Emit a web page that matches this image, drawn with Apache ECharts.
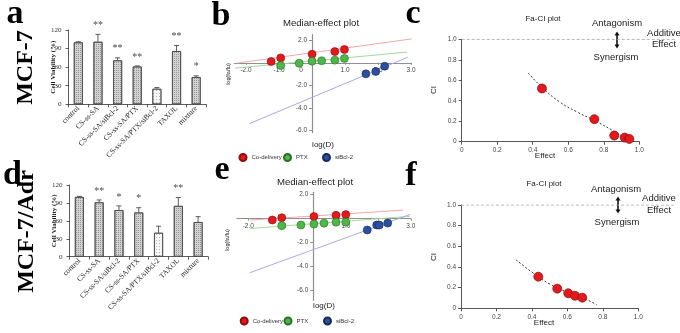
<!DOCTYPE html>
<html><head><meta charset="utf-8">
<script src="https://cdn.jsdelivr.net/npm/echarts@6/dist/echarts.min.js"></script>
<style>html,body{margin:0;padding:0;background:#fff}#c{width:680px;height:333px}</style>
</head><body><div id="c"></div>
<script>
// ---------- data ----------
const categories = ['control','CS-ss-SA','CS-ss-SA/siBcl-2','CS-ss-SA/PTX','CS-ss-SA/PTX/siBcl-2','TAXOL','mixture'];
const viabilityTicks = [0,30,60,90,120];
const viabilityMCF7 = [100,101,71,61,25,86,44];
const errTopMCF7   = [101,113,75,62,27,95,46];
const sigMCF7      = ['','**','**','**','','**','*'];
const viabilityAdr = [100,91,78,74,40,85,58];
const errTopAdr    = [101,95,85,82,51,99,67];
const sigAdr       = ['','**','*','*','','**',''];

const seriesNames = ['Co-delivery','PTX','siBcl-2'];
const logDTicks = [-2,-1,0,1,2,3];
const logFaTicks = [-6,-4,-2,2];
// panel b (MCF-7) median-effect points
const medB_co  = [[-1.24,0.12],[-0.95,0.44],[0,0.77],[0.69,1.0],[0.98,1.19]];
const medB_ptx = [[-0.95,-0.24],[-0.39,-0.03],[0,0.15],[0.29,0.18],[0.69,0.24],[0.98,0.39]];
const medB_si  = [[1.63,-0.98],[1.93,-0.77],[2.2,-0.3]];
const fitB_co  = [[-2.28,-0.03],[3.02,2.13]];
const fitB_ptx = [[-2.33,-0.47],[2.87,0.95]];
const fitB_si  = [[-1.91,-5.42],[2.9,0.5]];
// panel e (MCF-7/Adr)
const medE_co  = [[-1.26,-0.11],[-0.97,0.08],[0.02,0.18],[0.70,0.28],[1.0,0.34]];
const medE_ptx = [[-0.97,-0.58],[-0.38,-0.53],[0.02,-0.45],[0.33,-0.37],[0.70,-0.29],[1.0,-0.29]];
const medE_si  = [[1.66,-0.94],[1.95,-0.53],[2.03,-0.53],[2.29,-0.36]];
const fitE_co  = [[-1.95,-0.12],[2.77,0.72]];
const fitE_ptx = [[-1.95,-0.82],[2.98,0.2]];
const fitE_si  = [[-1.95,-4.5],[2.98,0.36]];
// panels c / f : Fa-CI
const faTicks = [0,0.2,0.4,0.6,0.8,1.0];
const additiveLine = [[0,1],[1.2,1]];
const faCI_C = [[0.452,0.52],[0.747,0.22],[0.859,0.06],[0.918,0.04],[0.944,0.027]];
const faCurve_C = [[0.375,0.67],[0.45,0.535],[0.55,0.39],[0.65,0.29],[0.75,0.205],[0.85,0.11],[0.9,0.06],[0.96,0.01]];
const faCI_F = [[0.436,0.306],[0.543,0.19],[0.605,0.145],[0.643,0.122],[0.684,0.103]];
const faCurve_F = [[0.31,0.47],[0.4,0.35],[0.5,0.235],[0.6,0.155],[0.7,0.09],[0.765,0.035]];

// ---------- styles ----------
const SERIF = '"Liberation Serif","Times New Roman",serif';
const SANS = '"Liberation Sans",Arial,sans-serif';
const dotColors = ['#e3191c','#4db848','#2d4f9e'];
const dotBorders = ['#8a0d0f','#2a6e27','#17285a'];
const fitColors = ['#f4a7a7','#a8d99b','#a9a9e6'];

const chart = echarts.init(document.getElementById('c'), null, {renderer:'canvas'});

const baseGrids = [
  {left:68.5, top:30, width:137.5, height:74.3},     // 0 a
  {left:69.5, top:185, width:138.5, height:71.7},    // 1 d
  {left:234.5, top:34.7, width:176.6, height:97.9},  // 2 b
  {left:236.9, top:192.3, width:173.9, height:108},  // 3 e
  {left:461.7, top:39.3, width:177.6, height:102.4}, // 4 c
  {left:461, top:205, width:177.3, height:103.3}     // 5 f
];
const addMax = additiveLine[1][0];
// 6,7: overlay grids for the "additive effect" reference line (extends past x = 1.0)
baseGrids.push(Object.assign({}, baseGrids[4], {width: baseGrids[4].width * addMax}));
baseGrids.push(Object.assign({}, baseGrids[5], {width: baseGrids[5].width * addMax}));
const grids = baseGrids.map(g => Object.assign({outerBoundsMode:'none', containLabel:false}, g));

const medExt = { 2:{x:[-2.35,3.0], y:[-6.2,2.5]}, 3:{x:[-2.35,3.0], y:[-6.8,2.2]} };

function barX(gi){
  return {type:'category', gridIndex:gi, data:categories,
    axisLine:{lineStyle:{color:'#333',width:0.8}},
    axisTick:{show:true,length:3,lineStyle:{color:'#333',width:0.8}},
    axisLabel:{interval:0, rotate:45, margin:3, fontSize:7.5, color:'#222', fontFamily:SERIF}};
}
function barY(gi){
  return {type:'value', gridIndex:gi, min:viabilityTicks[0], max:viabilityTicks[viabilityTicks.length-1], interval:30,
    name:'Cell Viability (%)', nameLocation:'middle', nameGap:12, nameMoveOverlap:false,
    nameTextStyle:{fontSize:7, fontWeight:'bold', fontFamily:SERIF, color:'#222'},
    axisLine:{show:true,lineStyle:{color:'#333',width:0.8}},
    axisTick:{show:true,length:3,lineStyle:{color:'#333',width:0.8}},
    splitLine:{show:false},
    axisLabel:{fontSize:7, color:'#333', fontFamily:SERIF, margin:7}};
}
function medX(gi){
  const e = medExt[gi], g = grids[gi];
  return {type:'value', gridIndex:gi, min:e.x[0], max:e.x[1],
    offset: -g.height * (0 - e.y[0]) / (e.y[1] - e.y[0]),
    axisLine:{onZero:false, lineStyle:{color:'#8f8f8f',width:1.2}},
    axisTick:{show:true, length:2, customValues:logDTicks, lineStyle:{color:'#8f8f8f'}},
    splitLine:{show:false},
    axisLabel:{customValues:logDTicks, fontSize:6.5, color:'#444', fontFamily:SANS, margin:4,
      formatter:v => v===0 ? '{z|0}' : v.toFixed(1),
      rich:{z:{fontSize:6.5,color:'#444',fontFamily:SANS,padding:[0,22,0,0]}}}};
}
function medY(gi){
  const e = medExt[gi], g = grids[gi];
  return {type:'value', gridIndex:gi, min:e.y[0], max:e.y[1],
    offset: -g.width * (0 - e.x[0]) / (e.x[1] - e.x[0]),
    axisLine:{show:true, onZero:false, lineStyle:{color:'#8f8f8f',width:1.2}},
    axisTick:{show:true, length:3, customValues:logFaTicks, lineStyle:{color:'#8f8f8f'}},
    splitLine:{show:false},
    axisLabel:{customValues:logFaTicks, fontSize:6.5, color:'#444', fontFamily:SANS, margin:5,
      formatter:v => v.toFixed(1)}};
}
function faAxis(gi){
  return {type:'value', gridIndex:gi, min:faTicks[0], max:faTicks[faTicks.length-1], interval:0.2,
    axisLine:{show:true, onZero:false, lineStyle:{color:'#555',width:1}},
    axisTick:{show:true,length:3,lineStyle:{color:'#555'}},
    splitLine:{show:false},
    axisLabel:{fontSize:6.5, color:'#444', fontFamily:SANS, margin:5,
      formatter:v => v===0 ? '0' : v.toFixed(1)}};
}
function hiddenAxis(gi, max){
  return {type:'value', gridIndex:gi, min:0, max:max, show:false, splitLine:{show:false}};
}

const xAxis = [barX(0), barX(1), medX(2), medX(3), faAxis(4), faAxis(5), hiddenAxis(6, addMax), hiddenAxis(7, addMax)];
const yAxis = [barY(0), barY(1), medY(2), medY(3), faAxis(4), faAxis(5), hiddenAxis(6, 1), hiddenAxis(7, 1)];

const hatch = {symbol:'rect', symbolSize:1, dashArrayX:[1,1], dashArrayY:[1,1], color:'rgba(80,80,80,0.45)'};
const dots  = {symbol:'rect', symbolSize:1, dashArrayX:[1,2], dashArrayY:[1,2], color:'rgba(120,120,120,0.5)'};
function barSeries(gi, vals){
  return {type:'bar', xAxisIndex:gi, yAxisIndex:gi, barWidth:9, silent:true,
    data: vals.map((v,i)=>({value:v, itemStyle: i===4 ? {color:'#f6f6f6', decal:dots} : {color:'#d2d2d2', decal:hatch}})),
    itemStyle:{borderColor:'#4a4a4a', borderWidth:0.8}};
}
function errSeries(gi, vals, tops, sig){
  return {type:'custom', xAxisIndex:gi, yAxisIndex:gi, silent:true, clip:false,
    data: vals.map((v,i)=>[i, v, tops[i]]),
    renderItem:(params, api)=>{
      const i = api.value(0);
      const p0 = api.coord([i, api.value(1)]);
      const p1 = api.coord([i, api.value(2)]);
      const st = {stroke:'#333', lineWidth:0.8};
      const ch = [
        {type:'line', shape:{x1:p0[0],y1:p0[1],x2:p1[0],y2:p1[1]}, style:st},
        {type:'line', shape:{x1:p1[0]-2.5,y1:p1[1],x2:p1[0]+2.5,y2:p1[1]}, style:st}
      ];
      if (sig[i]) ch.push({type:'text', x:p1[0], y:p1[1]-9,
        style:{text:sig[i], fill:'#4a4a4a', fontSize:10, fontFamily:SERIF, align:'center', verticalAlign:'middle', textAlign:'center', textVerticalAlign:'middle'}});
      return {type:'group', children:ch};
    }};
}
function fitSeries(gi, pts, k){
  return {type:'line', name:seriesNames[k]+' fit', xAxisIndex:gi, yAxisIndex:gi, data:pts, symbol:'none', silent:true,
    lineStyle:{color:fitColors[k], width:1}, z:1};
}
function dotSeries(gi, pts, k){
  return {type:'scatter', name:seriesNames[k], xAxisIndex:gi, yAxisIndex:gi, data:pts, symbol:'circle', symbolSize:8,
    itemStyle:{color:dotColors[k], borderColor:dotBorders[k], borderWidth:0.6, opacity:1}, z:3};
}
function faSeries(gi, gAdd, pts, curve){
  return [
    {type:'line', xAxisIndex:gAdd, yAxisIndex:gAdd, data:additiveLine, symbol:'none', silent:true,
      lineStyle:{color:'#a0a0a0', width:0.9, type:[3,2]}},
    {type:'line', xAxisIndex:gi, yAxisIndex:gi, data:curve, symbol:'none', smooth:true, silent:true,
      lineStyle:{color:'#333', width:1, type:[2,2]}},
    {type:'scatter', xAxisIndex:gi, yAxisIndex:gi, data:pts, symbol:'circle', symbolSize:9,
      itemStyle:{color:'#e5191c', borderColor:'#7a0d0f', borderWidth:0.7, opacity:1}, z:3}
  ];
}

const series = [
  barSeries(0, viabilityMCF7), errSeries(0, viabilityMCF7, errTopMCF7, sigMCF7),
  barSeries(1, viabilityAdr), errSeries(1, viabilityAdr, errTopAdr, sigAdr),
  fitSeries(2, fitB_co, 0), fitSeries(2, fitB_ptx, 1), fitSeries(2, fitB_si, 2),
  dotSeries(2, medB_co, 0), dotSeries(2, medB_ptx, 1), dotSeries(2, medB_si, 2),
  fitSeries(3, fitE_co, 0), fitSeries(3, fitE_ptx, 1), fitSeries(3, fitE_si, 2),
  dotSeries(3, medE_co, 0), dotSeries(3, medE_ptx, 1), dotSeries(3, medE_si, 2),
  ...faSeries(4, 6, faCI_C, faCurve_C),
  ...faSeries(5, 7, faCI_F, faCurve_F)
];

function oneLegend(name, left, top){
  return {data:[name], left:left, top:top, padding:0, icon:'circle', itemWidth:7, itemHeight:7,
    selectedMode:false, textStyle:{fontSize:6, color:'#333', fontFamily:SANS}};
}
const legend = [
  oneLegend('Co-delivery', 238.5, 153), oneLegend('PTX', 283, 153), oneLegend('siBcl-2', 322, 153),
  oneLegend('Co-delivery', 239.7, 316.5), oneLegend('PTX', 283.5, 316.5), oneLegend('siBcl-2', 323, 316.5)
];

function txt(t, x, y, size, opts){
  opts = opts || {};
  return {type:'text', x:x, y:y, rotation:opts.rot||0, silent:true,
    style:{text:t, fill:opts.color||'#222', fontSize:size, fontWeight:opts.bold?'bold':'normal',
      fontFamily:opts.family||SANS, align:'center', verticalAlign:'middle', textAlign:'center', textVerticalAlign:'middle'}};
}
function dblArrow(x, y1, y2){
  return {type:'group', silent:true, children:[
    {type:'line', shape:{x1:x,y1:y1+3,x2:x,y2:y2-3}, style:{stroke:'#111', lineWidth:1.6}},
    {type:'polygon', shape:{points:[[x-2.5,y1+4],[x+2.5,y1+4],[x,y1]]}, style:{fill:'#111'}},
    {type:'polygon', shape:{points:[[x-2.5,y2-4],[x+2.5,y2-4],[x,y2]]}, style:{fill:'#111'}}
  ]};
}
const R = Math.PI/2;
const L = {bold:true, family:SERIF, color:'#000'};
const graphic = [
  txt('a', 15, 14, 34, L),
  txt('b', 221, 16, 34, L),
  txt('c', 413, 14, 34, L),
  txt('d', 12.5, 175, 34, L),
  txt('e', 222, 170, 34, L),
  txt('f', 411, 176, 34, L),
  txt('MCF-7', 26, 67.5, 24, {bold:true, family:SERIF, color:'#000', rot:R}),
  txt('MCF-7/Adr', 26.5, 231.5, 24, {bold:true, family:SERIF, color:'#000', rot:R}),
  txt('Median-effect plot', 321, 23, 9.6),
  txt('Median-effect plot', 315, 182, 9.6),
  txt('log(fa/fu)', 228, 74, 5.5, {rot:R}),
  txt('log(fa/fu)', 227, 240, 5.5, {rot:R}),
  txt('log(D)', 323, 144.5, 8),
  txt('log(D)', 324, 305.7, 8),
  txt('Fa-CI plot', 543, 19, 8),
  txt('Fa-CI plot', 544, 184, 8),
  txt('Antagonism', 617, 23, 9.5),
  txt('Antagonism', 616, 189, 9.5),
  txt('Synergism', 616, 57, 9.5),
  txt('Synergism', 617, 222, 9.5),
  txt('Additive', 664, 33, 9.5),
  txt('Effect', 664, 44, 9.5),
  txt('Additive', 659, 198, 9.5),
  txt('Effect', 659, 210, 9.5),
  txt('CI', 434, 90, 8, {rot:R}),
  txt('CI', 434, 257, 8, {rot:R}),
  txt('Effect', 545, 156, 8),
  txt('Effect', 544, 323, 8),
  dblArrow(617, 31.5, 48.5),
  dblArrow(618, 196.5, 213.5)
];

chart.setOption({
  backgroundColor:'#fff', animation:false,
  grid:grids, xAxis:xAxis, yAxis:yAxis, series:series, legend:legend, graphic:graphic
});
</script></body></html>
